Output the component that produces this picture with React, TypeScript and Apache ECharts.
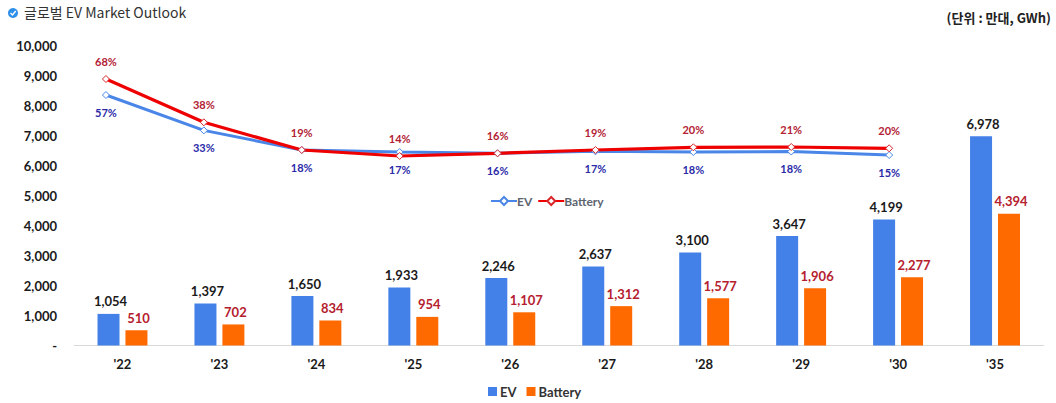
import React, { useEffect, useRef } from "react";
import * as echarts from "echarts";

const categories = ["'22", "'23", "'24", "'25", "'26", "'27", "'28", "'29", "'30", "'35"];
const evBars = [1054, 1397, 1650, 1933, 2246, 2637, 3100, 3647, 4199, 6978];
const batteryBars = [510, 702, 834, 954, 1107, 1312, 1577, 1906, 2277, 4394];
const evLine = [8350, 7170, 6517, 6450, 6407, 6473, 6450, 6467, 6350, null];
const batteryLine = [8883, 7440, 6517, 6317, 6407, 6517, 6607, 6617, 6573, null];
const evGrowth = ["57%", "33%", "18%", "17%", "16%", "17%", "18%", "18%", "15%", ""];
const batteryGrowth = ["68%", "38%", "19%", "14%", "16%", "19%", "20%", "21%", "20%", ""];

const FONT = "Lato, 'Noto Sans CJK KR', sans-serif";
const KR = "'Noto Sans CJK KR', sans-serif";
const INK = "#1a1a1a";

export default function App() {
  const ref = useRef<HTMLDivElement>(null);
  useEffect(() => {
    const chart = echarts.init(ref.current!, undefined, { renderer: "svg" });
    chart.setOption({
      animation: false,
      textStyle: { fontFamily: FONT },
      grid: [
        { left: 74, right: 12.5, top: 45.5, height: 300 },
        { left: 57, right: 20, top: 45.5, height: 300 },
      ],
      title: [
        { text: "글로벌 EV Market Outlook", left: 19, top: 0,
          textStyle: { fontFamily: KR, fontSize: 14, fontWeight: "normal", color: "#333" } },
        { text: "(단위 : 만대, GWh)", right: 0, top: 6,
          textStyle: { fontFamily: KR, fontSize: 13, fontWeight: "bold", color: "#222" } },
      ],
      graphic: [
        { type: "circle", shape: { cx: 13, cy: 13, r: 5 }, style: { fill: "#2E8FE8" } },
        { type: "polyline", shape: { points: [[10.5, 13], [12.5, 15], [15.7, 11]] },
          style: { stroke: "#fff", lineWidth: 1.4, fill: "none" } },
      ],
      legend: [
        { left: 485, top: 190, itemGap: 5, itemWidth: 26, itemHeight: 10,
          data: ["EV|line", "Battery|line"],
          formatter: (n: string) => n.split("|")[0],
          textStyle: { fontFamily: FONT, fontSize: 12, fontWeight: "bold", color: "#5d6470", padding: [0, 0, 0, -5] } },
        { left: 483, top: 380, itemGap: 10, itemWidth: 9, itemHeight: 9,
          icon: "rect",
          data: ["EV", "Battery"],
          textStyle: { fontFamily: FONT, fontSize: 13, fontWeight: "bold", color: "#333", padding: [0, 0, 0, -2] } },
      ],
      xAxis: [
        {
          type: "category",
          data: categories,
          axisLine: { lineStyle: { color: "#d9d9d9", width: 1 } },
          axisTick: { show: false },
          axisLabel: { margin: 12, fontFamily: FONT, fontSize: 13, fontWeight: "bold", color: INK },
        },
        { type: "category", gridIndex: 1, data: categories, show: false },
      ],
      yAxis: [
        {
          type: "value",
          min: 0,
          max: 10000,
          interval: 1000,
          splitLine: { show: false },
          axisLine: { show: false },
          axisTick: { show: false },
          axisLabel: {
            margin: 17,
            padding: [0, 0, 2, 0],
            fontFamily: FONT,
            fontSize: 13,
            fontWeight: "bold",
            color: INK,
            formatter: (v: number) => (v === 0 ? "-" : v.toLocaleString("en-US")),
          },
        },
        { type: "value", gridIndex: 1, min: 0, max: 10000, interval: 1000, show: false },
      ],
      series: [
        {
          name: "EV", type: "bar", data: evBars, barWidth: 22, barGap: "27%",
          itemStyle: { color: "#4380E8" },
          label: { show: true, position: "top", distance: 6, offset: [2, 0], fontFamily: FONT, fontSize: 13, fontWeight: "bold", color: INK,
            formatter: (p: any) => p.value.toLocaleString("en-US") },
        },
        {
          name: "Battery", type: "bar", data: batteryBars, barWidth: 22,
          itemStyle: { color: "#FF6A00" },
          label: { show: true, position: "top", distance: 6, offset: [2, 0], fontFamily: FONT, fontSize: 13, fontWeight: "bold", color: "#B5202E",
            formatter: (p: any) => p.value.toLocaleString("en-US") },
        },
        {
          name: "EV|line", type: "line", xAxisIndex: 1, yAxisIndex: 1, data: evLine, symbol: "diamond", symbolSize: 7,
          lineStyle: { color: "#4A86E8", width: 3 },
          itemStyle: { color: "#fff", borderColor: "#4A86E8", borderWidth: 1 },
          label: { show: true, position: "bottom", distance: 8, fontFamily: FONT, fontSize: 11, fontWeight: "bold", color: "#2B2BA8",
            formatter: (p: any) => evGrowth[p.dataIndex] },
        },
        {
          name: "Battery|line", type: "line", xAxisIndex: 1, yAxisIndex: 1, data: batteryLine, symbol: "diamond", symbolSize: 7,
          lineStyle: { color: "#EE0000", width: 3.2 },
          itemStyle: { color: "#fff", borderColor: "#D9262B", borderWidth: 1 },
          label: { show: true, position: "top", distance: 8, fontFamily: FONT, fontSize: 11, fontWeight: "bold", color: "#B22234",
            formatter: (p: any) => batteryGrowth[p.dataIndex] },
        },
      ],
    });
    return () => chart.dispose();
  }, []);
  return <div ref={ref} style={{ position: "fixed", left: 0, top: 0, width: 1056, height: 403, background: "#fff" }} />;
}
